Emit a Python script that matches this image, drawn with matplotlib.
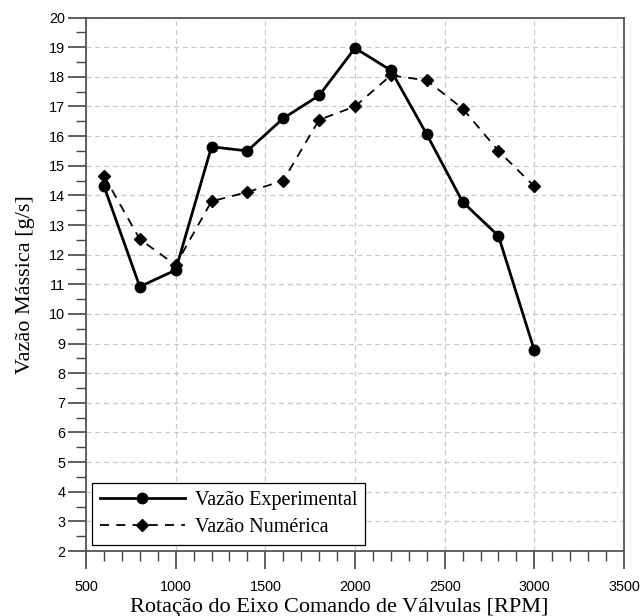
import numpy as np
import matplotlib
matplotlib.use('Agg')
import matplotlib.pyplot as plt
from matplotlib.ticker import MultipleLocator

# rotação do eixo comando [RPM]
rpm = [600, 800, 1000, 1200, 1400, 1600, 1800, 2000, 2200, 2400, 2600, 2800, 3000]

# vazão mássica [g/s]
vazao_exp = [14.32, 10.92, 11.48, 15.64, 15.50, 16.60, 17.37, 18.97, 18.22, 16.06, 13.78, 12.63, 8.77]
vazao_num = [14.66, 12.52, 11.65, 13.80, 14.11, 14.50, 16.55, 17.00, 18.05, 17.88, 16.93, 15.50, 14.30]

label_exp = 'Vazão Experimental'
label_num = 'Vazão Numérica'

serif = ['Liberation Serif', 'DejaVu Serif']
sans = ['Liberation Sans', 'DejaVu Sans']

fig = plt.figure(figsize=(6.43, 6.16), dpi=100)
ax = fig.add_axes([0.1337, 0.1055, 0.8368, 0.866])

ax.plot(rpm, vazao_exp, color='black', lw=2.0, marker='o', ms=7.5,
        label=label_exp, zorder=4)
ax.plot(rpm, vazao_num, color='black', lw=1.3, ls=(0, (5, 4)), marker='D', ms=6.5,
        label=label_num, zorder=3)

ax.set_xlim(500, 3500)
ax.set_ylim(2, 20)
ax.xaxis.set_major_locator(MultipleLocator(500))
ax.xaxis.set_minor_locator(MultipleLocator(100))
ax.yaxis.set_major_locator(MultipleLocator(1))
ax.yaxis.set_minor_locator(MultipleLocator(0.5))

ax.grid(True, which='major', color='#c8c8c8', ls=(0, (4, 3)), lw=0.9)
ax.set_axisbelow(True)

for sp in ax.spines.values():
    sp.set_color('#555555')
    sp.set_linewidth(1.3)

ax.tick_params(axis='both', which='major', direction='out', length=13, width=1.2,
               color='#444444', labelsize=10.4)
ax.tick_params(axis='both', which='minor', direction='out', length=7, width=1.0,
               color='#444444')
ax.tick_params(axis='x', which='major', pad=8)
ax.tick_params(axis='y', which='major', pad=2)
for lb in ax.get_xticklabels() + ax.get_yticklabels():
    lb.set_family(sans)

ax.set_xlabel('Rotação do Eixo Comando de Válvulas [RPM]', family=serif, fontsize=16, labelpad=3)
ax.xaxis.label.set_x(0.47)
ax.set_ylabel('Vazão Mássica [g/s]', family=serif, fontsize=16, labelpad=10)

leg = ax.legend(loc='lower left', prop={'family': serif, 'size': 14.5},
                fancybox=False, framealpha=1, edgecolor='black',
                handlelength=4.2, handletextpad=0.5, borderaxespad=0.3,
                labelspacing=0.4, borderpad=0.4)
leg.get_frame().set_linewidth(0.9)

fig.savefig('out.png', dpi=100)
